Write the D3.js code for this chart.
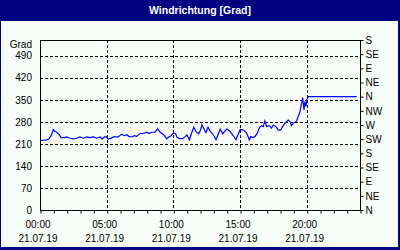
<!DOCTYPE html>
<html>
<head>
<meta charset="utf-8">
<script src="https://cdn.jsdelivr.net/npm/d3@7"></script>
<style>
  body { margin: 0; background: #fff; }
  svg { display: block; }
  text { font-family: "Liberation Sans", Arial, sans-serif; font-size: 10px; fill: #000; }
</style>
</head>
<body>
<svg id="chart" width="400" height="250"></svg>
<script>
// Messzeitpunkte und Windrichtung (Grad)
var zeiten = ["00:00","00:15","00:30","00:40","00:50","01:00","01:05","01:15","01:25","01:35",
  "01:50","02:00","02:15","02:30","02:45","03:00","03:15","03:30","03:45","04:00",
  "04:15","04:30","04:40","04:50","05:00","05:05","05:15","05:30","05:52","06:07",
  "06:20","06:30","06:40","06:52","07:05","07:15","07:30","07:45","08:00","08:12",
  "08:22","08:37","08:50","09:00","09:10","09:20","09:30","09:40","09:50","10:00",
  "10:10","10:17","10:27","10:42","10:54","11:01","11:12","11:21","11:32","11:42",
  "11:54","12:01","12:09","12:16","12:27","12:36","12:46","12:57","13:06","13:12",
  "13:21","13:31","13:42","13:51","14:01","14:12","14:21","14:31","14:42","14:51",
  "15:01","15:15","15:27","15:33","15:42","15:48","15:57","16:07","16:18","16:27",
  "16:37","16:45","16:52","17:00","17:12","17:22","17:30","17:42","17:52","18:03",
  "18:12","18:22","18:37","18:45","18:52","19:00","19:07","19:15","19:22","19:30",
  "19:36","19:42","19:48","19:52","19:57","20:01","20:07","23:45"];
var richtung = [220,222,223,226,236,255,251,247,241,230,
  230,232,228,226,228,232,228,232,230,232,
  228,232,226,232,232,226,226,232,232,241,
  236,239,234,232,236,234,243,243,247,243,
  247,247,258,247,243,236,226,232,236,245,
  242,231,227,227,233,239,223,242,263,249,
  242,252,271,260,246,263,250,242,231,223,
  239,257,242,250,257,252,244,235,223,239,
  256,254,247,239,223,233,230,233,244,262,
  268,265,283,265,268,260,270,265,254,254,
  265,276,286,281,268,276,279,283,297,313,
  334,357,318,345,329,350,360,360];

var linksTicks = [0,70,140,210,280,350,420,490];
var rechtsTicks = [0,45,90,135,180,225,270,315,360,405,450,495,540];
var himmelsrichtungen = ["N","NE","E","SE","S","SW","W","NW","N","NE","E","SE","S"];
var xBeschriftung = ["00:00","05:00","10:00","15:00","20:00"];
var datum = "21.07.19";

var parseZeit = d3.timeParse("%d.%m.%y %H:%M");
var daten = zeiten.map(function(z, i){
  return {t: parseZeit(datum + " " + z), v: richtung[i]};
});

var svg = d3.select("#chart");
var W = 400, H = 250;
var plot = {left: 40, right: 360, top: 40, bottom: 210};

// Rahmen und Titel
svg.append("rect").attr("width", W).attr("height", H).attr("fill", "#000080");
svg.append("rect").attr("x", 1).attr("y", 21).attr("width", W - 3).attr("height", H - 24)
  .attr("fill", "#f8fcf8");
svg.append("text").attr("x", W / 2).attr("y", 14)
  .attr("text-anchor", "middle")
  .style("font-weight", "bold").style("font-size", "10.5px").style("fill", "#fff")
  .text("Windrichtung [Grad]");

var start = parseZeit(datum + " 00:00");
var ende = d3.timeDay.offset(start, 1);

var x = d3.scaleTime().domain([start, ende]).range([plot.left, plot.right]);
var y = d3.scaleLinear().domain([0, 540]).range([plot.bottom, plot.top]);

var g = svg.append("g");

// Gitter
g.selectAll(".hgrid").data(linksTicks.slice(1)).enter().append("line")
  .attr("x1", plot.left).attr("x2", plot.right)
  .attr("y1", function(d){ return Math.round(y(d)) + 0.5; })
  .attr("y2", function(d){ return Math.round(y(d)) + 0.5; })
  .attr("stroke", "#000").attr("stroke-dasharray", "3,2");

var xMajor = xBeschriftung.map(function(s){ return parseZeit(datum + " " + s); });
g.selectAll(".vgrid").data(xMajor.slice(1)).enter().append("line")
  .attr("x1", function(d){ return Math.round(x(d)) + 0.5; })
  .attr("x2", function(d){ return Math.round(x(d)) + 0.5; })
  .attr("y1", plot.top).attr("y2", plot.bottom)
  .attr("stroke", "#000").attr("stroke-dasharray", "3,2");

// Linie
var linie = d3.line()
  .x(function(d){ return x(d.t); })
  .y(function(d){ return y(d.v); });
g.append("path").datum(daten)
  .attr("d", linie)
  .attr("fill", "none").attr("stroke", "#0000ff").attr("stroke-width", 1.2);

// Plotrahmen
g.append("rect").attr("x", plot.left + 0.5).attr("y", plot.top + 0.5)
  .attr("width", plot.right - plot.left).attr("height", plot.bottom - plot.top)
  .attr("fill", "none").attr("stroke", "#000");

// x-Achse: stündliche Striche
var xAchse = d3.axisBottom(x).ticks(d3.timeHour.every(1)).tickSize(3).tickFormat("");
var xa = g.append("g").attr("transform", "translate(0.5," + (plot.bottom + 0.5) + ")").call(xAchse);
xa.select(".domain").remove();

var xl = g.selectAll(".xlab").data(xMajor).enter().append("g")
  .attr("transform", function(d){ return "translate(" + (x(d) - 2) + ",0)"; });
xl.append("text").attr("y", 228).attr("text-anchor", "middle")
  .text(function(d){ return d3.timeFormat("%H:%M")(d); });
xl.append("text").attr("y", 242).attr("text-anchor", "middle")
  .text(function(d){ return d3.timeFormat("%d.%m.%y")(d); });

// linke Achse
var yl = d3.axisLeft(y).tickValues(linksTicks).tickSize(0).tickPadding(8);
var ya = g.append("g").attr("transform", "translate(" + plot.left + ",0)").call(yl);
ya.select(".domain").remove();
ya.selectAll("text").style("font-family", "Liberation Sans, Arial, sans-serif").style("font-size", "10px");
g.append("text").attr("x", 32).attr("y", 48).attr("text-anchor", "end").text("Grad");

// rechte Achse mit Himmelsrichtungen
var yr = d3.axisRight(y).tickValues(rechtsTicks).tickSize(3).tickPadding(2)
  .tickFormat(function(d, i){ return himmelsrichtungen[i]; });
var ra = g.append("g").attr("transform", "translate(" + (plot.right + 0.5) + ",0)").call(yr);
ra.select(".domain").remove();
ra.selectAll("text").style("font-family", "Liberation Sans, Arial, sans-serif").style("font-size", "10px");
</script>
</body>
</html>
